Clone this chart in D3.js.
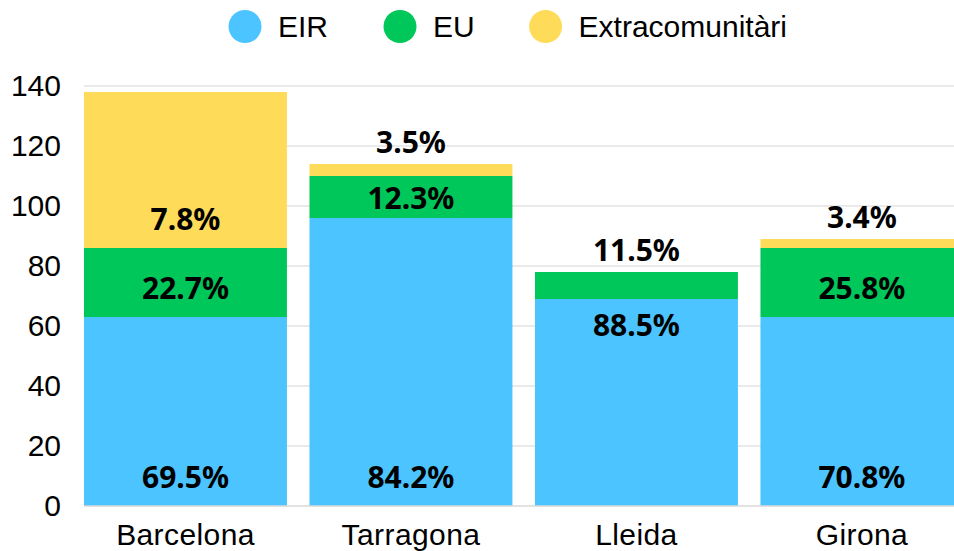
<html>
    <head>
        <meta charset="utf-8">
        <script src="https://d3js.org/d3.v7.min.js"></script>
        <style>
            body { margin: 0; background: white; }
        </style>
    </head>
    <body>
        <div id="chart-container"></div>
        <script>
            // bar heights
            const cities = ["Barcelona", "Tarragona", "Lleida", "Girona"];
            const seriesNames = ["EIR", "EU", "Extracomunitàri"];
            const eirValues = [63, 96, 69, 63];
            const euValues = [23, 14, 9, 23];
            const extraValues = [52, 4, 0, 3];
            // percentage labels shown on the segments ("" = none)
            const eirLabels = ["69.5%", "84.2%", "88.5%", "70.8%"];
            const euLabels = ["22.7%", "12.3%", "11.5%", "25.8%"];
            const extraLabels = ["7.8%", "3.5%", "", "3.4%"];
            const yTicks = [0, 20, 40, 60, 80, 100, 120, 140];
            const colors = ["#4BC4FF", "#00C75A", "#FFDB5A"];

            const w = 954;
            const h = 551;
            const tickFont = "'Liberation Sans', Arial, sans-serif";
            const labelFont = "'Noto Sans', 'Open Sans', sans-serif";

            const svg = d3.select("#chart-container")
                .append("svg")
                .attr("width", w)
                .attr("height", h)
                .style("background", "white");

            const xScale = d3.scaleBand()
                .domain(cities)
                .range([84, 963.4])
                .paddingInner(0.1)
                .paddingOuter(0);

            const yScale = d3.scaleLinear()
                .domain([0, 140])
                .range([506, 86]);

            const rows = cities.map((c, i) => ({
                city: c,
                EIR: eirValues[i],
                EU: euValues[i],
                "Extracomunitàri": extraValues[i]
            }));
            const labelSets = [eirLabels, euLabels, extraLabels];

            const stacked = d3.stack().keys(seriesNames)(rows);

            // gridlines
            svg.append("g")
                .selectAll("line")
                .data(yTicks.filter(t => t > 0))
                .enter()
                .append("line")
                .attr("x1", 84)
                .attr("x2", w)
                .attr("y1", d => yScale(d))
                .attr("y2", d => yScale(d))
                .attr("stroke", "#e3e3e3")
                .attr("stroke-width", 1.5);

            // bars
            svg.append("g")
                .selectAll("g")
                .data(stacked)
                .enter()
                .append("g")
                .attr("fill", (d, i) => colors[i])
                .selectAll("rect")
                .data(d => d)
                .enter()
                .append("rect")
                .attr("x", d => xScale(d.data.city))
                .attr("y", d => yScale(d[1]))
                .attr("width", xScale.bandwidth())
                .attr("height", d => yScale(d[0]) - yScale(d[1]));

            // baseline
            svg.append("line")
                .attr("x1", 84)
                .attr("x2", w)
                .attr("y1", yScale(0))
                .attr("y2", yScale(0))
                .attr("stroke", "#d9d9d9")
                .attr("stroke-width", 1.5);

            // data labels
            const labels = [];
            stacked.forEach((s, si) => {
                s.forEach((d, ci) => {
                    const txt = labelSets[si][ci];
                    if (!txt) return;
                    const top = yScale(d[1]);
                    const base = yScale(d[0]);
                    const segH = base - top;
                    let cy;
                    if (segH < 30) {
                        cy = top - 12 - 10.7; // above the segment
                    } else if (d.data.city === "Lleida") {
                        cy = top + 25.5; // near the top
                    } else {
                        cy = base - Math.min(segH / 2, 29.5);
                    }
                    labels.push({ x: xScale(d.data.city) + xScale.bandwidth() / 2, y: cy, t: txt });
                });
            });

            svg.append("g")
                .selectAll("text")
                .data(labels)
                .enter()
                .append("text")
                .attr("x", d => d.x)
                .attr("y", d => d.y)
                .attr("text-anchor", "middle")
                .attr("dominant-baseline", "central")
                .style("font-family", labelFont)
                .style("font-weight", "bold")
                .style("font-size", "30px")
                .attr("fill", "#000")
                .text(d => d.t);

            // y axis
            const yAxis = d3.axisLeft(yScale).tickValues(yTicks).tickSize(0).tickPadding(0);
            const yG = svg.append("g")
                .attr("transform", "translate(61, 0)")
                .call(yAxis);
            yG.select(".domain").remove();
            yG.selectAll("text")
                .style("font-family", tickFont)
                .style("font-size", "30px")
                .attr("fill", "#000");

            // x axis
            const xAxis = d3.axisBottom(xScale).tickSize(0).tickPadding(0);
            const xG = svg.append("g")
                .attr("transform", "translate(0, 534)")
                .call(xAxis);
            xG.select(".domain").remove();
            xG.selectAll("text")
                .attr("dy", "0.35em")
                .attr("y", 0)
                .style("font-family", tickFont)
                .style("font-size", "30px")
                .style("letter-spacing", "0.4px")
                .attr("fill", "#000");

            // legend
            const legendX = [245, 400, 545.6];
            const legend = svg.append("g")
                .selectAll("g")
                .data(seriesNames)
                .enter()
                .append("g")
                .attr("transform", (d, i) => "translate(" + legendX[i] + ", 26.5)");
            legend.append("circle")
                .attr("r", 16.5)
                .attr("fill", (d, i) => colors[i]);
            legend.append("text")
                .attr("x", 33)
                .attr("dy", "0.35em")
                .style("font-family", tickFont)
                .style("font-size", "30px")
                .attr("fill", "#000")
                .text(d => d);
        </script>
    </body>
</html>
